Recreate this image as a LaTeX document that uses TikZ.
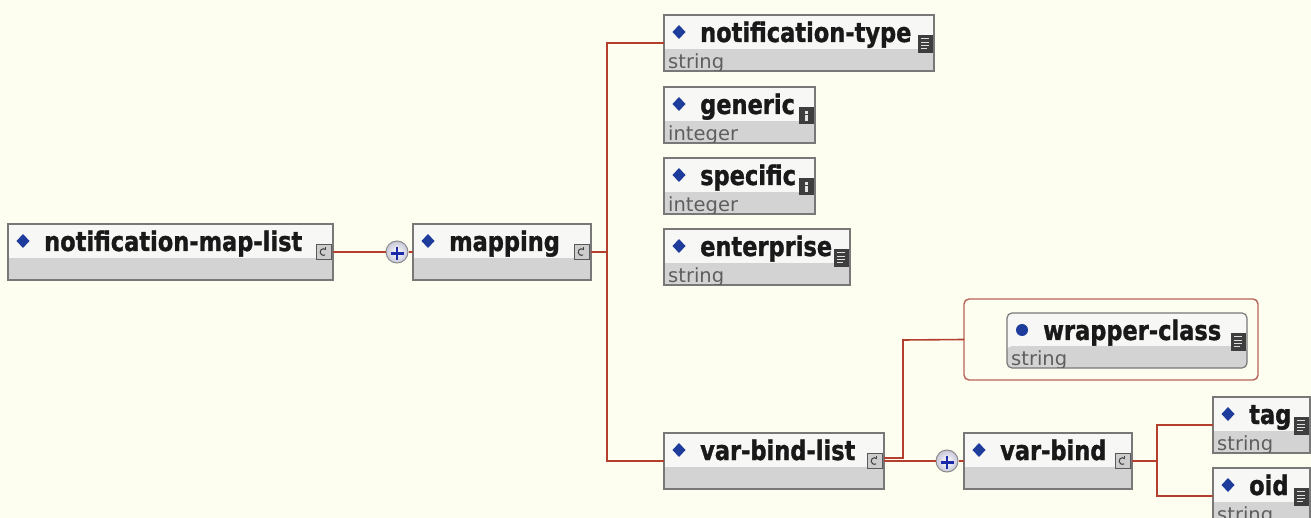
\documentclass[tikz,border=0pt]{standalone}
\usepackage{fontspec}
\usepackage{graphicx}
\setmainfont{DejaVu Sans}[BoldFeatures={FakeBold=1.3}]
\usetikzlibrary{shapes.geometric,calc}
\definecolor{bgc}{HTML}{FDFDF0}
\definecolor{wire}{HTML}{B3402F}
\definecolor{boxline}{HTML}{787878}
\definecolor{boxtop}{HTML}{F7F7F5}
\definecolor{boxgray}{HTML}{D3D3D3}
\definecolor{diac}{HTML}{1E3C9C}
\definecolor{icondark}{HTML}{3E3E3E}
\definecolor{iconlight}{HTML}{CDCDCD}
\definecolor{typegray}{HTML}{5E5E5E}
\definecolor{wrapline}{HTML}{B86458}
\definecolor{plusblue}{HTML}{1A2AA8}
\definecolor{lav}{HTML}{C6C6DA}
\tikzset{
  elembox/.style={draw=boxline, line width=1.2pt, fill=boxtop, anchor=north west,
    minimum height=56pt, inner sep=0pt, outer sep=0pt,
    path picture={\fill[boxgray] ([yshift=22pt]path picture bounding box.south west)
      rectangle (path picture bounding box.south east);}},
  ename/.style={anchor=base west, inner sep=0pt, font=\bfseries\fontsize{22.5}{24}\selectfont, text=black!90},
  etype/.style={anchor=base west, inner sep=0pt, font=\fontsize{19.5}{21}\selectfont, text=typegray},
  diamondmark/.pic={\fill[diac] (0,-7) -- (6.5,0) -- (0,7) -- (-6.5,0) -- cycle;},
  dotmark/.pic={\fill[diac] (0,0) circle[radius=6pt];},
  eqicon/.style={fill=icondark, draw=icondark, line width=0.6pt, minimum width=14pt, minimum height=17pt,
    inner sep=0pt, anchor=north east,
    path picture={
      \foreach \k/\w in {3.5/8,6.8/8,10.1/8,13.4/6}{
        \draw[white!75!gray, line width=1pt]
          ([xshift=3pt,yshift=-\k pt]path picture bounding box.north west) -- ++(\w pt,0);}}},
  iicon/.style={fill=icondark, draw=icondark, line width=0.6pt, minimum width=14pt, minimum height=16pt,
    inner sep=0pt, anchor=north east,
    path picture={
      \fill[white!80!gray] ([xshift=5.5pt,yshift=-4pt]path picture bounding box.north west) rectangle ++(3pt,-2.5pt);
      \fill[white!80!gray] ([xshift=5.5pt,yshift=-8pt]path picture bounding box.north west) rectangle ++(3pt,-6pt);}},
  cicon/.style={fill=iconlight, draw=black!65, line width=0.8pt, minimum width=15pt, minimum height=15pt,
    inner sep=0pt, anchor=north east,
    path picture={
      \draw[black!75, line width=1pt]
        ([xshift=2pt,yshift=2.4pt]path picture bounding box.center) arc[start angle=50, end angle=300, radius=3.3pt];
      \draw[black!75, line width=1pt]
        ([xshift=2pt,yshift=1.5pt]path picture bounding box.center) -- ++(0,3.5pt);}},
  plusc/.style={circle, minimum size=22pt, inner sep=0pt, draw=black!45, line width=1pt,
    inner color=white, outer color=lav,
    path picture={
      \draw[plusblue, line width=2.4pt] ([xshift=-6.5pt,yshift=-1.5pt]path picture bounding box.center) -- ++(13pt,0);
      \draw[plusblue, line width=2.4pt] ([yshift=-8pt]path picture bounding box.center) -- ++(0,13pt);}},
  wrapbox/.style={draw=wrapline, line width=1.4pt, rounded corners=5pt, anchor=north west,
    inner sep=0pt, outer sep=0pt, fill=bgc},
  wire/.style={draw=wire, line width=1.6pt},
}
% #1 name, #2 x, #3 y, #4 width, #5 label, #6 type, #7 icon style, #8 marker pic, #9 extra box options
\newcommand\xsdelem[9]{%
  \node[elembox, minimum width=#4pt, #9] (#1) at (#2,#3) {};
  \pic (#1-m) at ([xshift=15pt,yshift=-17pt]#1.north west) {#8};
  \node[ename] (#1-n) at ([xshift=36pt,yshift=-27pt]#1.north west) {\scalebox{1}[1.2]{#5}};
  \begin{scope}
    \clip ([shift={(0.6pt,0.6pt)}]#1.south west) rectangle ([shift={(-0.6pt,-0.6pt)}]#1.north east);
    \node[etype] (#1-t) at ([xshift=4pt,yshift=2.5pt]#1.south west) {#6};
  \end{scope}
  \node[#7] (#1-i) at ([xshift=-1.5pt,yshift=-20pt]#1.north east) {};
}
\begin{document}
\begin{tikzpicture}[x=1pt,y=-1pt]
\useasboundingbox (0,0) rectangle (1311,518);
\clip (0,0) rectangle (1311,518);
\fill[bgc] (0,0) rectangle (1311,518);

% elements
\xsdelem{maplist}{8}{224}{325}{notification-map-list}{}{cicon}{diamondmark}{}
\node[plusc] (p1) at (397,252) {};
\xsdelem{mapping}{413}{224}{178}{mapping}{}{cicon}{diamondmark}{}
\xsdelem{ntype}{664}{15}{270}{notification-type}{string}{eqicon}{diamondmark}{}
\xsdelem{generic}{664}{87}{151}{generic}{integer}{iicon}{diamondmark}{}
\xsdelem{specific}{664}{158}{151}{specific}{integer}{iicon}{diamondmark}{}
\xsdelem{enterprise}{664}{229}{186}{enterprise}{string}{eqicon}{diamondmark}{}
\node[wrapbox, minimum width=294pt, minimum height=81pt] (wrap) at (964,299) {};
\xsdelem{wclass}{1007}{313}{240}{wrapper-class}{string}{eqicon}{dotmark}{rounded corners=5pt, minimum height=55pt}
\xsdelem{vbl}{664}{433}{220}{var-bind-list}{}{cicon}{diamondmark}{}
\node[plusc] (p2) at (947,461) {};
\xsdelem{vb}{964}{433}{168}{var-bind}{}{cicon}{diamondmark}{}
\xsdelem{tag}{1213}{397}{97}{tag}{string}{eqicon}{diamondmark}{}
\xsdelem{oid}{1213}{468}{97}{oid}{string}{eqicon}{diamondmark}{}

% connectors
\coordinate (sp) at (607,252);
\coordinate (br) at (903,340);
\coordinate (sp2) at (1157,461);
\draw[wire] (maplist.east) -- (p1.west);
\draw[wire] (p1.east) -- (mapping.west);
\draw[wire] (mapping.east) -- (sp);
\draw[wire] (ntype.west) -| (sp) |- (vbl.west);
\draw[wire] (vbl.east) -- (p2.west);
\draw[wire] (p2.east) -- (vb.west);
\draw[wire] ([yshift=3pt]vbl.east) -| (br) -- (wrap.west);
\draw[wire] (vb.east) -- (sp2);
\draw[wire] (tag.west) -| (sp2) |- (oid.west);
\end{tikzpicture}
\end{document}
